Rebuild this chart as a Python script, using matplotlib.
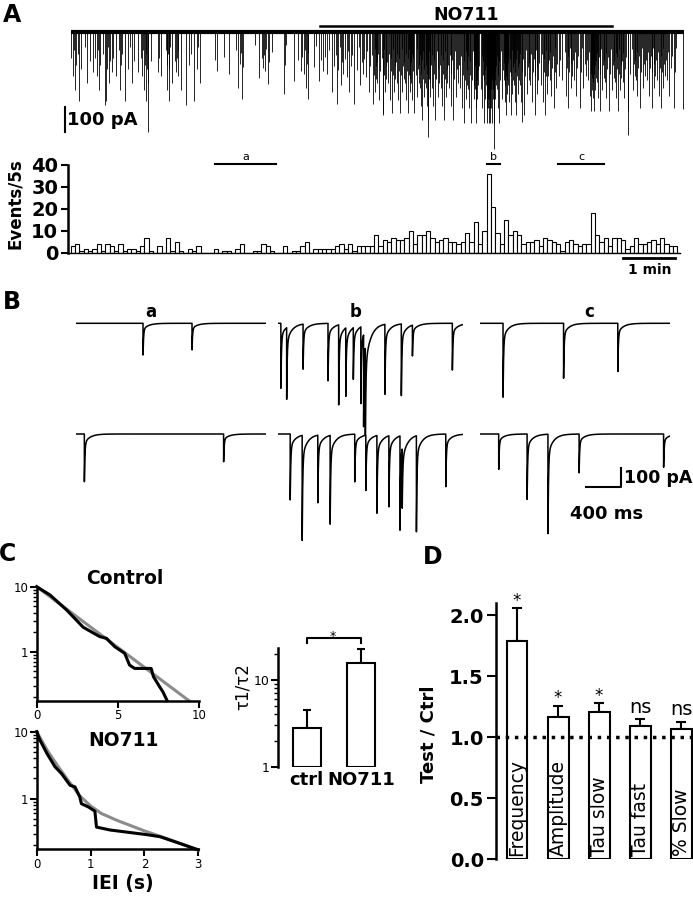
import numpy as np
import matplotlib.pyplot as plt
from matplotlib.ticker import NullFormatter

W, H = 693, 899

# ---------------- panel A data ----------------
# events counted per 5 s bin
bin_s = 5
events_per_bin = [3, 4, 1, 2, 1, 2, 4, 1, 4, 3, 1, 4, 1, 2, 2, 1, 3, 7, 1, 0, 3, 0, 7, 1, 5, 1, 0, 2,
                  1, 3, 0, 0, 0, 2, 0, 1, 1, 0, 2, 4, 0, 0, 1, 1, 4, 3, 1, 0, 0, 3, 0, 1, 1, 3,
                  5, 0, 2, 2, 2, 2, 2, 3, 4, 2, 4, 1, 3, 3, 3, 3,
                  8, 3, 6, 5, 7, 6, 6, 7, 10, 4, 8, 8, 10, 7, 5, 6, 7, 5, 5, 4, 5, 9, 5, 14, 4, 10, 36,
                  21, 9, 4, 15, 8, 10, 8, 4, 5, 5, 6, 3, 7, 6, 5, 4, 1, 5, 6, 4, 3, 4, 4, 18,
                  8, 5, 7, 3, 7, 7, 6, 2, 3, 7, 4, 4, 5, 6, 4, 7, 4, 3, 3]
# typical large amplitude of the trace per 10 bins (pA)
trace_envelope = [290, 290, 290, 280, 260, 280, 300, 340, 370, 380, 350, 320, 330, 320]
# relative event sizes, cycled through the events
rel_sizes = [0.35, 0.6, 0.25, 0.8, 0.45, 0.3, 0.95, 0.5, 0.2, 0.7, 0.4, 0.55]
# the biggest single events of the trace
big_t = [40, 89, 133, 360, 412, 489, 521, 643, 707]
big_amp = [290, 400, 290, 330, 420, 465, 360, 410, 305]
no711_on, no711_off = 288, 625
win_a = (167, 237)
win_b = (480, 496)
win_c = (563, 615)

# ---------------- panel B data (ms, pA) ----------------
b_dur = {"a": 2150, "b": 2090, "c": 2140}
b_events = {
    ("a", 0): ([760, 1312], [167, 140]),
    ("b", 0): ([35, 100, 285, 566, 686, 766, 851, 936, 967, 986, 1207, 1392, 1517, 1967],
               [342, 377, 237, 302, 421, 360, 272, 404, 483, 542, 368, 377, 162, 246]),
    ("c", 0): ([260, 942, 1553], [389, 289, 254]),
    ("a", 1): ([99, 1668], [251, 146]),
    ("b", 1): ([140, 275, 451, 590, 867, 992, 1117, 1252, 1377, 1402, 1562, 1893],
               [347, 553, 356, 467, 251, 291, 409, 374, 496, 312, 505, 277]),
    ("c", 1): ([211, 531, 766, 1117, 2069], [186, 344, 523, 204, 175]),
}

# ---------------- panel C data ----------------
ctrl_t = [0, 0.82, 1.84, 2.86, 3.88, 4.29, 4.8, 5.41, 5.71, 6.02, 7.04, 7.18, 7.55, 7.76, 8.02]
ctrl_n = [10, 7.45, 4.38, 2.37, 1.70, 1.60, 1.19, 0.94, 0.62, 0.55, 0.55, 0.41, 0.29, 0.24, 0.176]
ctrl_fit_t = [0, 9.35]
ctrl_fit_n = [10, 0.176]
no_t = [0, 0.06, 0.19, 0.34, 0.46, 0.62, 0.71, 0.80, 0.83, 0.96, 1.08, 1.11, 1.36, 2.04, 2.29, 3.0]
no_n = [10, 7.5, 4.73, 2.99, 2.37, 1.58, 1.5, 1.06, 0.84, 0.75, 0.65, 0.376, 0.34, 0.29, 0.27, 0.172]
no_fit_t = [0, 0.2, 0.4, 0.6, 0.8, 1.0, 1.2, 1.5, 2.0, 2.5, 3.0]
no_fit_n = [10, 5.2, 3.0, 1.8, 1.1, 0.78, 0.6, 0.47, 0.33, 0.24, 0.17]
ratio_groups = ["ctrl", "NO711"]
ratio_mean = [2.77, 15.8]
ratio_err = [1.73, 7.2]

# ---------------- panel D data ----------------
d_labels = ["Frequency", "Amplitude", "Tau slow", "Tau fast", "% Slow"]
d_mean = [1.79, 1.17, 1.21, 1.09, 1.07]
d_sem = [0.27, 0.09, 0.07, 0.06, 0.06]
d_marks = ["*", "*", "*", "ns", "ns"]

fig = plt.figure(figsize=(W / 100, H / 100), dpi=100)


def px_axes(x0, y0, x1, y1):
    return fig.add_axes([x0 / W, 1 - y1 / H, (x1 - x0) / W, (y1 - y0) / H])


def px_text(x, y, s, **kw):
    fig.text(x / W, 1 - y / H, s, **kw)


for s, x, y in [("A", 12, 15), ("B", 12, 302), ("C", 8, 554), ("D", 433, 557)]:
    px_text(x, y, s, fontsize=17, fontweight="bold", ha="center", va="center")

# ---------------- A: trace ----------------
T0 = 70.5
PXS = 52 / 60  # px per second
axA = px_axes(58, 0, 686, 160)
axA.set_xlim((58 - T0) / PXS, (686 - T0) / PXS)
axA.set_ylim(-(160 - 32.3) / 0.25, 32.3 / 0.25)
axA.axis("off")

t_ev, a_ev = [], []
k = 0
for i, n in enumerate(events_per_bin):
    for j in range(n):
        t_ev.append(bin_s * (i + (j + 0.5) / n))
        a_ev.append(trace_envelope[i // 10] * rel_sizes[k % len(rel_sizes)])
        k += 1
t_ev += big_t
a_ev += big_amp
axA.vlines(t_ev, -np.array(a_ev), 0, color="k", lw=0.6)
axA.plot([0, 708], [0, 0], color="k", lw=3, solid_capstyle="butt")
axA.plot([no711_on, no711_off], [25, 25], color="k", lw=1.8)
axA.text((no711_on + no711_off) / 2, 70, "NO711", ha="center", va="center",
         fontsize=12.5, fontweight="bold")
axA.plot([-6.3, -6.3], [-300, -400], color="k", lw=1.5, clip_on=False)
axA.text(-3.5, -352, "100 pA", ha="left", va="center", fontsize=13, fontweight="bold")

# ---------------- A: histogram ----------------
axH = px_axes(68, 165, 680, 253)
edges = np.arange(len(events_per_bin)) * bin_s
axH.bar(edges, events_per_bin, width=bin_s, align="edge", color="white",
        edgecolor="k", lw=0.8)
axH.set_xlim((68 - T0) / PXS, (680 - T0) / PXS)
axH.set_ylim(0, 40)
axH.set_yticks([0, 10, 20, 30, 40])
for lab in axH.get_yticklabels():
    lab.set_fontweight("bold")
axH.tick_params(axis="y", labelsize=14, length=5, width=1.5, pad=2)
axH.tick_params(axis="x", bottom=False, labelbottom=False)
for sp in ["top", "right"]:
    axH.spines[sp].set_visible(False)
axH.spines["left"].set_linewidth(1.8)
axH.spines["bottom"].set_linewidth(1.0)
axH.set_ylabel("Events/5s", fontsize=12, fontweight="bold")
axH.yaxis.set_label_coords(-0.072, 0.557)
for (t1, t2), lab in [(win_a, "a"), (win_b, "b"), (win_c, "c")]:
    axH.plot([t1, t2], [40.5, 40.5], color="k", lw=1.5, clip_on=False)
    axH.text((t1 + t2) / 2, 41.5, lab, ha="center", va="bottom", fontsize=8)
axH.plot([638, 698], [-2.4, -2.4], color="k", lw=2, clip_on=False)
axH.text(668, -4.5, "1 min", ha="center", va="top", fontsize=10, fontweight="bold")

# ---------------- B: example traces ----------------
MSPX = 35.5 / 400
PAPX = 0.19
col_x = {"a": 75.6, "b": 277.8, "c": 480}
row_y = [323.3, 434]
trace_axes = {}
for (col, row), (times, amps) in b_events.items():
    dur = b_dur[col]
    x0 = col_x[col]
    y0 = row_y[row]
    ax = px_axes(x0, y0 - 15, x0 + dur * MSPX, y0 + 112)
    ax.set_xlim(0, dur)
    ax.set_ylim(-112 / PAPX, 15 / PAPX)
    ax.axis("off")
    t = np.arange(0, dur, 0.5)
    y = np.zeros_like(t)
    for te, amp in zip(times, amps):
        dt = t - te
        m = dt >= 0
        y[m] -= amp * (0.8 * np.exp(-dt[m] / 6) + 0.2 * np.exp(-dt[m] / 60))
    ax.plot(t, y, color="k", lw=1.1)
    trace_axes[(col, row)] = ax
for col, x in [("a", 151), ("b", 355.6), ("c", 589)]:
    px_text(x, 312, col, fontsize=12, fontweight="bold", ha="center", va="center")
axs = trace_axes[("c", 1)]
axs.plot([1192, 1592, 1592], [-279, -279, -179], color="k", lw=1.5, clip_on=False)
axs.text(1623, -232, "100 pA", ha="left", va="center", fontsize=12.5, fontweight="bold")
axs.text(1431, -420, "400 ms", ha="center", va="center", fontsize=13, fontweight="bold")

# ---------------- C: IEI distributions ----------------
axC1 = px_axes(36.7, 586.7, 199.3, 700.7)
axC2 = px_axes(36.7, 731.7, 198.3, 849.3)
axC1.plot(ctrl_fit_t, ctrl_fit_n, color="#8c8c8c", lw=2.2, clip_on=False)
axC1.plot(ctrl_t, ctrl_n, color="k", lw=2.2, clip_on=False)
axC2.plot(no_fit_t, no_fit_n, color="#8c8c8c", lw=2.2, clip_on=False)
axC2.plot(no_t, no_n, color="k", lw=2.2, clip_on=False)
axC1.set_xlim(0, 10)
axC1.set_xticks([0, 5, 10])
axC2.set_xlim(0, 3)
axC2.set_xticks([0, 1, 2, 3])
for ax in (axC1, axC2):
    ax.set_yscale("log")
    ax.set_ylim(0.175, 10)
    ax.set_yticks([1, 10])
    ax.set_yticklabels(["1", "10"])
    ax.yaxis.set_minor_formatter(NullFormatter())
    ax.tick_params(which="major", length=5, width=1.5, labelsize=8.5, pad=1)
    ax.tick_params(which="minor", length=3, width=1)
    for sp in ["top", "right"]:
        ax.spines[sp].set_visible(False)
    for sp in ["left", "bottom"]:
        ax.spines[sp].set_linewidth(1.8)
px_text(125, 578, "Control", fontsize=13.5, fontweight="bold", ha="center", va="center")
px_text(123, 741, "NO711", fontsize=13.5, fontweight="bold", ha="center", va="center")
px_text(123, 884, "IEI (s)", fontsize=13.5, fontweight="bold", ha="center", va="center")

# inset: tau ratio
axR = px_axes(278, 648.3, 390, 766.7)
xr = np.arange(len(ratio_groups))
axR.set_yscale("log")
axR.bar(xr, np.array(ratio_mean) - 1, bottom=1, width=0.52, color="white",
        edgecolor="k", lw=1.5, zorder=2)
axR.errorbar(xr, ratio_mean, yerr=[[0, 0], ratio_err], fmt="none", ecolor="k",
             elinewidth=1.5, capsize=3, capthick=1.5, zorder=1, clip_on=False)
axR.set_ylim(1, 23.2)
axR.set_xlim(-0.53, 1.53)
axR.set_yticks([1, 10])
axR.set_yticklabels(["1", "10"])
axR.yaxis.set_minor_formatter(NullFormatter())
axR.tick_params(axis="y", which="major", length=5, width=1.5, labelsize=9, pad=1)
axR.tick_params(axis="y", which="minor", length=3, width=1)
axR.set_xticks(xr)
axR.set_xticklabels(ratio_groups, fontsize=13, fontweight="bold")
axR.tick_params(axis="x", length=0, pad=3)
for sp in ["top", "right", "bottom"]:
    axR.spines[sp].set_visible(False)
axR.spines["left"].set_linewidth(1.8)
axR.set_ylabel("τ1/τ2", fontsize=12)
axR.yaxis.set_label_coords(-0.235, 0.68)
axR.plot([0, 0, 1, 1], [26.7, 30.3, 30.3, 26.7], color="k", lw=1.5, clip_on=False)
axR.text(0.48, 28.9, "*", ha="center", va="baseline", fontsize=9)

# ---------------- D: summary ----------------
axD = px_axes(495.7, 603.3, 693, 859.3)
xd = np.arange(len(d_labels))
axD.bar(xd, d_mean, width=0.51, color="white", edgecolor="k", lw=1.5, zorder=2)
axD.errorbar(xd, d_mean, yerr=[np.zeros(len(d_sem)), d_sem], fmt="none", ecolor="k",
             elinewidth=1.5, capsize=3.5, capthick=1.5, zorder=1)
axD.axhline(1.0, color="k", ls=":", lw=2.5, zorder=3)
for i, lab in enumerate(d_labels):
    axD.text(i, 0.03, lab, rotation=90, ha="center", va="bottom", fontsize=13.5, zorder=4)
for i, mk in enumerate(d_marks):
    top = d_mean[i] + d_sem[i]
    if mk == "*":
        axD.text(i, top + 0.02, mk, ha="center", va="baseline", fontsize=12)
    else:
        axD.text(i, top + 0.05, mk, ha="center", va="baseline", fontsize=14)
axD.set_xlim(-0.52, 4.29)
axD.set_ylim(0, 2.1)
axD.set_yticks([0, 0.5, 1.0, 1.5, 2.0])
axD.set_yticklabels(["0.0", "0.5", "1.0", "1.5", "2.0"])
for lab in axD.get_yticklabels():
    lab.set_fontweight("bold")
axD.tick_params(axis="y", labelsize=14, length=6.5, width=1.5, pad=2)
axD.tick_params(axis="x", bottom=False, labelbottom=False)
for sp in ["top", "right", "bottom"]:
    axD.spines[sp].set_visible(False)
axD.spines["left"].set_linewidth(1.8)
axD.set_ylabel("Test / Ctrl", fontsize=13, fontweight="bold")
axD.yaxis.set_label_coords(-0.295, 0.49)

fig.savefig("out.png", dpi=100)
